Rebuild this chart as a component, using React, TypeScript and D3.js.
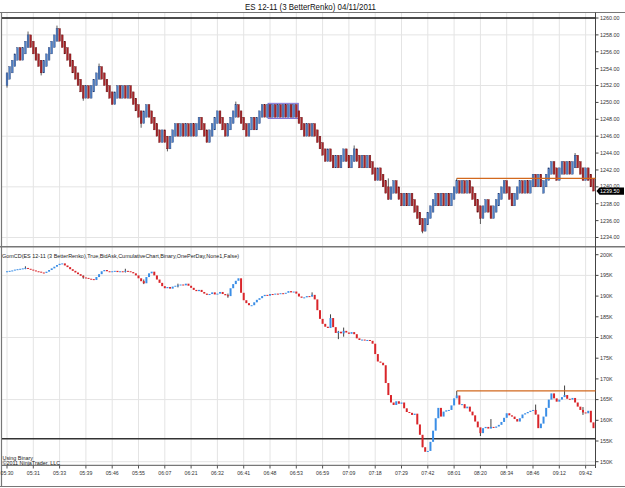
import React from 'react';
import * as d3 from 'd3';

// Renko closes (3 tick bricks, ES 12-11)
const priceCloses = [
  1253.5, 1254.25, 1255.0, 1255.75, 1256.5, 1255.0, 1256.5, 1257.25, 1258.0, 1256.5,
  1255.75, 1255.0, 1254.25, 1253.5, 1255.0, 1255.75, 1256.5, 1257.25, 1258.0, 1258.75,
  1257.25, 1256.5, 1255.75, 1255.0, 1254.25, 1253.5, 1252.75, 1252.0, 1251.25, 1250.5,
  1252.0, 1250.5, 1252.0, 1252.75, 1253.5, 1254.25, 1252.75, 1252.0, 1251.25, 1250.5,
  1249.75, 1251.25, 1252.0, 1250.5, 1252.0, 1250.5, 1252.0, 1250.5, 1249.75, 1249.0,
  1248.25, 1247.5, 1249.0, 1249.75, 1248.25, 1247.5, 1246.75, 1246.0, 1245.25, 1246.75,
  1245.25, 1244.5, 1246.0, 1246.75, 1247.5, 1246.0, 1247.5, 1246.0, 1247.5, 1246.0,
  1247.5, 1246.0, 1247.5, 1248.25, 1246.75, 1246.0, 1245.25, 1246.75, 1247.5, 1248.25,
  1249.0, 1247.5, 1246.75, 1246.0, 1247.5, 1248.25, 1249.0, 1249.75, 1248.25, 1247.5,
  1246.75, 1246.0, 1247.5, 1248.25, 1246.75, 1248.25, 1249.0, 1249.75, 1248.25, 1249.75,
  1248.25, 1249.75, 1248.25, 1249.75, 1248.25, 1249.75, 1248.25, 1249.75, 1248.25, 1249.75,
  1248.25, 1247.5, 1246.75, 1246.0, 1247.5, 1246.0, 1247.5, 1246.0, 1245.25, 1244.5,
  1243.75, 1243.0, 1244.5, 1243.0, 1242.25, 1243.75, 1242.25, 1243.75, 1244.5, 1243.0,
  1242.25, 1243.75, 1244.5, 1243.0, 1242.25, 1243.75, 1242.25, 1243.75, 1242.25, 1241.5,
  1240.75, 1242.25, 1240.75, 1240.0, 1239.25, 1238.5, 1240.0, 1240.75, 1239.25, 1238.5,
  1237.75, 1239.25, 1237.75, 1239.25, 1237.75, 1237.0, 1236.25, 1235.5, 1234.75, 1236.25,
  1237.0, 1237.75, 1238.5, 1239.25, 1237.75, 1239.25, 1237.75, 1239.25, 1237.75, 1239.25,
  1240.0, 1240.75, 1239.25, 1240.75, 1239.25, 1240.75, 1239.25, 1238.5, 1237.75, 1237.0,
  1236.25, 1237.75, 1238.5, 1237.0, 1236.25, 1237.75, 1238.5, 1239.25, 1240.0, 1240.75,
  1239.25, 1238.5, 1237.75, 1239.25, 1240.0, 1240.75, 1239.25, 1240.75, 1239.25, 1240.75,
  1241.5, 1240.0, 1241.5, 1240.0, 1240.75, 1241.5, 1242.25, 1243.0, 1241.5, 1240.75,
  1242.25, 1243.0, 1241.5, 1243.0, 1241.5, 1243.0, 1243.75, 1242.25, 1241.5, 1240.75,
  1242.25, 1240.75, 1240.0, 1239.5
];

// [bar index, low, high]
const priceWicks = [
  [0, 1251.75, 1253.5], [8, 1256.5, 1258.4], [13, 1253.2, 1255.0], [19, 1257.25, 1259.1],
  [29, 1250.2, 1252.0], [35, 1252.75, 1254.6], [51, 1247.0, 1249.0], [61, 1244.2, 1246.0],
  [87, 1248.25, 1250.1], [132, 1243.0, 1244.9], [158, 1234.5, 1236.25], [171, 1239.25, 1241.0],
  [180, 1235.6, 1237.75], [216, 1242.25, 1244.0], [145, 1238.5, 1241.0]
];

// GomCD cumulative delta (K)
const cdCloses = [
  196.0, 196.1, 196.2, 196.4, 196.5, 196.6, 196.7, 196.8, 196.6, 196.4,
  196.2, 196.0, 195.9, 195.7, 195.6, 195.9, 196.3, 196.7, 197.1, 197.5,
  197.8, 197.9, 197.4, 197.0, 196.5, 196.1, 195.7, 195.3, 194.9, 194.5,
  194.4, 194.2, 194.1, 193.9, 194.6, 195.3, 196.0, 196.3, 196.0, 195.8,
  196.0, 196.1, 195.8, 196.0, 195.9, 196.1, 196.0, 195.8, 195.5, 195.0,
  194.3, 193.6, 193.1, 194.6, 195.5, 195.9, 195.0, 194.0, 193.2, 192.4,
  191.9, 192.2, 191.8, 192.3, 192.5, 192.6, 192.8, 192.6, 193.0, 192.5,
  192.0, 191.5, 191.2, 191.5, 191.0, 190.6, 190.3, 190.5, 190.9, 190.4,
  190.6, 191.0, 190.5, 190.2, 190.0, 191.9, 192.9, 193.7, 194.3, 190.8,
  189.0, 188.3, 187.8, 187.8, 188.5, 189.1, 189.5, 190.0, 190.3, 190.1,
  190.5, 190.4, 190.6, 190.5, 190.7, 190.6, 190.8, 191.2, 190.9, 191.1,
  190.6, 189.9, 189.6, 189.7, 190.0, 189.9, 190.3, 189.2, 186.6, 184.5,
  183.3, 182.6, 182.3, 184.7, 182.5, 181.1, 181.4, 181.0, 181.6, 181.2,
  180.9, 181.3, 180.8, 179.8, 179.4, 179.5, 179.3, 179.4, 179.2, 178.5,
  176.0, 174.2, 173.9, 173.3, 169.0, 166.1, 164.3, 163.7, 164.6, 164.0,
  164.3, 162.9, 162.0, 161.8, 161.3, 161.6, 159.0, 156.5, 153.5, 152.4,
  152.6, 154.8, 157.5, 160.5, 163.0, 160.9, 162.1, 162.4, 162.5, 163.6,
  165.3, 166.0, 163.8, 163.9, 162.9, 163.3, 162.1, 161.2, 159.7, 158.3,
  156.9, 158.1, 158.4, 158.0, 158.4, 158.2, 158.5, 158.9, 159.6, 160.6,
  161.7, 161.2, 160.9, 160.3, 159.7, 160.5, 161.4, 161.7, 162.0, 162.3,
  162.5, 161.4, 158.1, 159.2, 160.9, 163.0, 165.0, 166.5, 165.3, 164.5,
  165.0, 165.6, 166.1, 165.2, 165.0, 165.4, 164.3, 163.3, 162.5, 161.9,
  161.7, 162.3, 159.5, 158.1
];

const cdWicks = [
  [7, 196.5, 197.2], [29, 194.2, 195.0], [45, 195.7, 196.6], [52, 192.9, 194.0],
  [65, 192.1, 193.0], [84, 189.6, 190.6], [116, 189.9, 190.9], [123, 184.3, 185.6],
  [126, 179.6, 181.6], [128, 180.2, 182.4], [158, 153.5, 156.0], [171, 165.8, 167.1],
  [180, 156.2, 157.5], [184, 158.2, 160.3], [201, 161.4, 163.8], [212, 165.8, 168.4],
  [219, 161.3, 163.2]
];

const timeLabels = [
  '05:30', '05:31', '05:33', '05:39', '05:46', '05:55', '06:07', '06:21', '06:32', '06:41',
  '06:48', '06:53', '06:59', '07:09', '07:18', '07:29', '07:42', '08:01', '08:20', '08:34',
  '08:46', '09:12', '09:42'
];
const priceTicks = [1234, 1236, 1238, 1240, 1242, 1244, 1246, 1248, 1250, 1252, 1254, 1256, 1258, 1260];
const priceGrid = [1234, 1240, 1246, 1252, 1258];
const cdTicks = [150, 155, 160, 165, 170, 175, 180, 185, 190, 195, 200];
const cdGrid = [150, 165, 180, 195];

const brick = 1.5;
const lastPrice = 1239.5;
const priceLine = 1260;
const cdLine = 155.55;
const resistPrice = { from: 171, value: 1241.0 };
const resistCd = { from: 171, value: 167.1 };
const zoneBox = { from: 100, to: 110, low: 1248.1, high: 1249.9 };

const FONT = 'Liberation Sans, Arial, sans-serif';

export default function App() {
  const W = 625, H = 488;
  const axisX = 595.5;
  const n = priceCloses.length;

  const x = d3.scaleLinear().domain([0, n - 1]).range([7, 593.5]);
  const yP = d3.scaleLinear().domain([1234, 1260]).range([237.5, 18]);
  const yC = d3.scaleLinear().domain([150, 200]).range([461.7, 254.7]);

  // renko direction: up if close above previous close
  const dirs: number[] = [];
  priceCloses.forEach((c, i) => {
    if (i === 0) dirs.push(1);
    else dirs.push(c > priceCloses[i - 1] ? 1 : c < priceCloses[i - 1] ? -1 : dirs[i - 1]);
  });

  const timeIdx = timeLabels.map((_, k) => k * 10);
  const markerY = yP(lastPrice);

  return (
    <svg width={W} height={H} style={{ position: 'absolute', left: 0, top: 0, background: '#fff' }}
      fontFamily={FONT}>
      <rect x={0} y={0} width={W} height={H} fill="#fff" />
      <text x={245} y={9.5} fontSize={8.5} fill="#111" textLength={131} lengthAdjust="spacingAndGlyphs">
        ES 12-11 (3 BetterRenko)  04/11/2011
      </text>

      {/* grid */}
      {timeIdx.map(i => (
        <line key={'vg' + i} x1={x(i)} x2={x(i)} y1={13} y2={465} stroke="#e4e4e4" strokeWidth={1} />
      ))}
      {priceGrid.map(v => (
        <line key={'pg' + v} x1={2} x2={axisX} y1={yP(v)} y2={yP(v)} stroke="#e4e4e4" />
      ))}
      {cdGrid.map(v => (
        <line key={'cg' + v} x1={2} x2={axisX} y1={yC(v)} y2={yC(v)} stroke="#e4e4e4" />
      ))}

      {/* frame */}
      <line x1={0} x2={W} y1={12.5} y2={12.5} stroke="#777" />
      <line x1={1.5} x2={1.5} y1={12.5} y2={487} stroke="#777" strokeWidth={1.2} />
      <line x1={0} x2={W} y1={486.5} y2={486.5} stroke="#777" />
      <line x1={0} x2={W} y1={246.8} y2={246.8} stroke="#777" strokeWidth={1.5} />
      <line x1={axisX} x2={axisX} y1={12.5} y2={468} stroke="#444" />
      <line x1={2} x2={axisX} y1={465.3} y2={465.3} stroke="#555" />

      {/* horizontal user lines */}
      <line x1={2} x2={axisX} y1={yP(priceLine)} y2={yP(priceLine)} stroke="#111" strokeWidth={1.5} />
      <line x1={2} x2={axisX} y1={yC(cdLine)} y2={yC(cdLine)} stroke="#333" strokeWidth={1.5} />

      {/* zone box */}
      <rect x={x(zoneBox.from) - 2} y={yP(zoneBox.high)} width={x(zoneBox.to) - x(zoneBox.from) + 4}
        height={yP(zoneBox.low) - yP(zoneBox.high)} fill="#a3a3f7" fillOpacity={0.5} stroke="#6a5acd" strokeWidth={0.8} />

      {/* price wicks */}
      {priceWicks.map(([i, lo, hi]) => (
        <line key={'pw' + i} x1={x(i)} x2={x(i)} y1={yP(hi)} y2={yP(lo)} stroke="#333" strokeWidth={0.8} />
      ))}

      {/* renko bars */}
      {priceCloses.map((c, i) => {
        const up = dirs[i] > 0;
        const open = up ? c - brick : c + brick;
        const y0 = yP(Math.max(open, c));
        const y1 = yP(Math.min(open, c));
        return (
          <rect key={'pb' + i} x={x(i) - 0.9} y={y0} width={1.8} height={y1 - y0}
            fill={up ? '#4f81c7' : '#a82328'} stroke={up ? '#26396b' : '#5a1010'} strokeWidth={0.35} />
        );
      })}

      {/* cd wicks */}
      {cdWicks.map(([i, lo, hi]) => (
        <line key={'cw' + i} x1={x(i)} x2={x(i)} y1={yC(hi)} y2={yC(lo)} stroke="#111" strokeWidth={0.8} />
      ))}

      {/* cd candles */}
      {cdCloses.map((c, i) => {
        const open = i === 0 ? c - 0.15 : cdCloses[i - 1];
        const up = c >= open;
        const y0 = yC(Math.max(open, c));
        const y1 = yC(Math.min(open, c));
        return (
          <rect key={'cb' + i} x={x(i) - 1} y={y0} width={2} height={Math.max(1, y1 - y0)}
            fill={up ? '#3b8ee6' : '#d9252a'} />
        );
      })}

      {/* resistance lines */}
      <line x1={x(resistPrice.from)} x2={axisX} y1={yP(resistPrice.value)} y2={yP(resistPrice.value)}
        stroke="#d2691e" strokeWidth={1.2} />
      <line x1={x(resistCd.from)} x2={axisX} y1={yC(resistCd.value)} y2={yC(resistCd.value)}
        stroke="#d2691e" strokeWidth={1.2} />

      {/* right axes */}
      {priceTicks.map(v => (
        <g key={'pt' + v}>
          <line x1={axisX} x2={axisX + 3} y1={yP(v)} y2={yP(v)} stroke="#444" />
          <text x={600} y={yP(v) - (v === 1240 ? 1.2 : 0)} dy="0.35em" fontSize={5.4} fill="#333">{v.toFixed(2)}</text>
        </g>
      ))}
      {cdTicks.map(v => (
        <g key={'ct' + v}>
          <line x1={axisX} x2={axisX + 3} y1={yC(v)} y2={yC(v)} stroke="#444" />
          <text x={600} y={yC(v)} dy="0.35em" fontSize={5.4} fill="#333">{v + 'K'}</text>
        </g>
      ))}

      {/* last price marker */}
      <path d={`M${axisX + 1},${markerY} L${axisX + 4},${markerY - 3.6} L${W - 1},${markerY - 3.6} L${W - 1},${markerY + 3.6} L${axisX + 4},${markerY + 3.6} Z`}
        fill="#000" />
      <text x={600} y={markerY} dy="0.35em" fontSize={5.4} fill="#fff">{lastPrice.toFixed(2)}</text>

      {/* time axis */}
      {timeLabels.map((t, k) => (
        <g key={'tl' + k}>
          <line x1={x(timeIdx[k])} x2={x(timeIdx[k])} y1={465.3} y2={468.5} stroke="#555" />
          <text x={x(timeIdx[k])} y={474.5} fontSize={5.2} fill="#333" textAnchor="middle">{t}</text>
        </g>
      ))}

      <text x={2} y={258} fontSize={5.6} fill="#222" textLength={237} lengthAdjust="spacingAndGlyphs">
        GomCD(ES 12-11 (3 BetterRenko),True,BidAsk,CumulativeChart,Binary,OnePerDay,None1,False)
      </text>
      <text x={2.5} y={459.5} fontSize={5.4} fill="#222">Using Binary</text>
      <text x={2.5} y={464.5} fontSize={5.4} fill="#222">©2011 NinjaTrader, LLC</text>
    </svg>
  );
}
